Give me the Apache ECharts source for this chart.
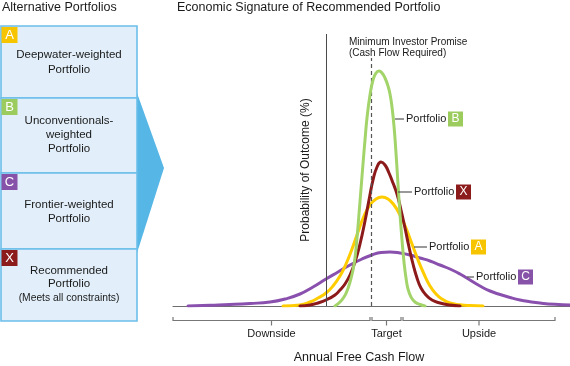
<!DOCTYPE html>
<html><head><meta charset="utf-8">
<script src="https://cdn.jsdelivr.net/npm/echarts/dist/echarts.min.js"></script>
<style>html,body{margin:0;padding:0;background:#fff}#c{width:570px;height:366px}</style>
</head><body><div id="c"></div>
<script>
// ---- data (x = cash-flow scale units, y = relative probability) ----
const greenX = [335,340,344,347,350,353,355,357,359,361,363,365,367,370,373,376,379,382,385,388,390,392,394,396,398,400,402,404,406,408,411,415,420,425];
const greenY = [0,4,9,15,24,36,48,68,92,117,142,166,188,211,226,233,235,233,228,220,212,199,180,153,122,92,66,44,28,17,9,4,1.5,0];

const redX = [300,310,318,326,335,340,345,350,355,360,365,369,373,377,381,385,389,393,397,401,405,409,413,417,421,426,432,440,450,460];
const redY = [0,1,3,6,11,16,22,31,44,62,85,106,126,139,144,141,133,123,112,96,78,59,42,28,18,11,6,3,1,0];

const yellowX = [283,300,310,318,326,333,340,346,352,358,364,370,376,382,388,394,400,406,412,418,424,430,436,442,450,460,470,483];
const yellowY = [0,1,4,8,13,20,30,42,57,74,90,101,107,109,107,101,91,78,62,46,32,20,12,7,3,1.2,0.4,0];

const purpleX = [188,210,230,250,270,285,300,313,326,338,350,362,372,381,390,400,410,420,430,440,450,460,470,480,490,500,510,520,530,540,555,570];
const purpleY = [0,0.8,1.5,2.5,4,7,12,19,27,34,41,47,51,53.5,54,53,51,48,45,41,37,32,26,20,15,11.5,8.5,6,4.3,3,1.7,1];

const portfolioNames = ['Deepwater-weighted\nPortfolio', 'Unconventionals-\nweighted\nPortfolio', 'Frontier-weighted\nPortfolio', 'Recommended\nPortfolio'];
const portfolioNote = '(Meets all constraints)';
const badges = ['A','B','C','X'];
const badgeColors = ['#f7c400','#9ccb5e','#8653a8','#8c1c1c'];

const curveLabelBadges = ['B','X','A','C'];
const curveLabelAnchorX = [394, 397, 413, 466];
const curveLabelAnchorY = [187, 114, 59, 29];

const bracketLabels = ['Downside','Target','Upside'];
const bracketStart = [173, 372, 403];
const bracketEnd = [370, 401, 555];

const promiseX = 371;
const axisLineX = 326;

const FONT = "'Liberation Sans', Arial, sans-serif";
const zip = (xs, ys) => xs.map((x, i) => [x, ys[i]]);

const chart = echarts.init(document.getElementById('c'), null, {renderer: 'canvas'});
const lineSeries = (name, xs, ys, color, z) => ({
  name, type: 'line', data: zip(xs, ys), smooth: 0.5, showSymbol: false, z,
  lineStyle: {color, width: 3, cap: 'round', join: 'round'}, silent: true, animation: false
});

chart.setOption({
  animation: false,
  grid: {left: 173, right: 0, top: 34, bottom: 60},
  xAxis: {type: 'value', min: 173, max: 570, axisLine: {show: true, lineStyle: {color: '#6e6e6e', width: 1.2}}, axisTick: {show: false}, axisLabel: {show: false}, splitLine: {show: false}},
  yAxis: {type: 'value', min: 0, max: 272, show: false},
  series: [
    Object.assign(lineSeries('C', purpleX, purpleY, '#8a50ae', 2), {
      markLine: {silent: true, symbol: 'none', animation: false, label: {show: false},
        data: [
          [{coord: [axisLineX, 0], lineStyle: {color: '#4a4a4a', width: 1, type: 'solid'}}, {coord: [axisLineX, 272]}],
          [{coord: [promiseX, 0], lineStyle: {color: '#555', width: 1.2, type: [4, 3]}}, {coord: [promiseX, 248]}]
        ]}
    }),
    lineSeries('A', yellowX, yellowY, '#ffcc00', 3),
    lineSeries('X', redX, redY, '#8c1a1a', 4),
    lineSeries('B', greenX, greenY, '#a2d46a', 5)
  ]
});

const g = [];
const txt = (x, y, text, size, align, extra) => Object.assign({type: 'text', x, y, silent: true, z: 20,
  style: Object.assign({text, font: `${size}px ${FONT}`, fill: '#1a1a1a', textAlign: align || 'left', textVerticalAlign: 'middle'}, extra || {})});

g.push(txt(2, 8, 'Alternative Portfolios', 12.5));
g.push(txt(177, 8, 'Economic Signature of Recommended Portfolio', 12.5));

const boxTops = [26, 98, 173, 249];
const boxBottoms = [98, 173, 249, 321];
const textCenters = [[55, 70], [121, 135, 149], [205, 219], [271, 284]];
g.push({type: 'polygon', silent: true, z: 5, shape: {points: [[137, 93], [164, 168], [137, 253]]}, style: {fill: '#56b6e6'}});
for (let i = 0; i < 4; i++) {
  g.push({type: 'rect', silent: true, z: 6, shape: {x: 1, y: boxTops[i], width: 136, height: boxBottoms[i] - boxTops[i]},
    style: {fill: '#e2effa', stroke: '#6bbfea', lineWidth: 1.6}});
  g.push({type: 'rect', silent: true, z: 7, shape: {x: 1.5, y: boxTops[i] + 1, width: 16, height: 16}, style: {fill: badgeColors[i]}});
  g.push(txt(9.5, boxTops[i] + 9.5, badges[i], 13, 'center', {fill: '#fff'}));
  const lines = portfolioNames[i].split('\n');
  lines.forEach((l, j) => g.push(txt(69, textCenters[i][j], l, 11.5, 'center')));
}
g.push(txt(69, 298, portfolioNote, 10.3, 'center'));

g.push(txt(349, 42, 'Minimum Investor Promise', 10, 'left'));
g.push(txt(349, 53.5, '(Cash Flow Required)', 10, 'left'));

g.push({type: 'text', silent: true, z: 20, x: 306, y: 170, rotation: Math.PI / 2,
  style: {text: 'Probability of Outcome (%)', font: `12px ${FONT}`, fill: '#1a1a1a', textAlign: 'center', textVerticalAlign: 'middle'}});

const leaderLen = [9, 14, 13, 7];
for (let i = 0; i < 4; i++) {
  const p = chart.convertToPixel({gridIndex: 0}, [curveLabelAnchorX[i], curveLabelAnchorY[i]]);
  const bi = badges.indexOf(curveLabelBadges[i]);
  g.push({type: 'line', silent: true, z: 20, shape: {x1: p[0] + 1, y1: p[1], x2: p[0] + 1 + leaderLen[i], y2: p[1]}, style: {stroke: '#555', lineWidth: 1.2}});
  const tx = p[0] + leaderLen[i] + 3;
  g.push(txt(tx, p[1], 'Portfolio', 11));
  g.push({type: 'rect', silent: true, z: 20, shape: {x: tx + 42, y: p[1] - 7.5, width: 15, height: 15}, style: {fill: badgeColors[bi]}});
  g.push(txt(tx + 49.5, p[1], curveLabelBadges[i], 12, 'center', {fill: '#fff'}));
}

const by = 320.5;
for (let i = 0; i < 3; i++) {
  const a = chart.convertToPixel({gridIndex: 0}, [bracketStart[i], 0])[0];
  const b = chart.convertToPixel({gridIndex: 0}, [bracketEnd[i], 0])[0];
  const m = (a + b) / 2;
  g.push({type: 'polyline', silent: true, z: 20, shape: {points: [[a, by - 3.5], [a, by], [b, by], [b, by - 3.5]]}, style: {stroke: '#777', lineWidth: 1.2, fill: null}});
  g.push({type: 'line', silent: true, z: 20, shape: {x1: m, y1: by, x2: m, y2: by + 5}, style: {stroke: '#777', lineWidth: 1.2}});
  g.push(txt(m, 333.5, bracketLabels[i], 11, 'center'));
}
g.push(txt(359, 358, 'Annual Free Cash Flow', 12.5, 'center'));

chart.setOption({graphic: g});
</script>
</body></html>
